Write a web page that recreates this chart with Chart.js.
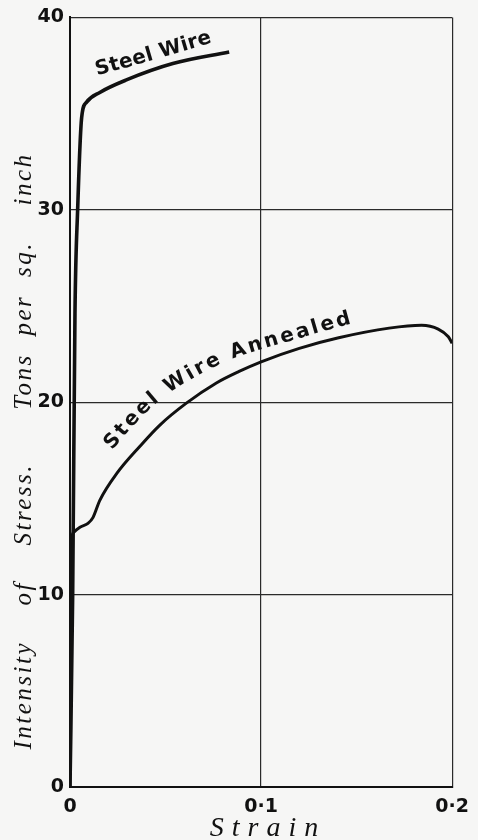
<!DOCTYPE html>
<html>
<head>
<meta charset="utf-8">
<script src="https://cdn.jsdelivr.net/npm/chart.js@4.4.1/dist/chart.umd.min.js"></script>
<style>
html,body{margin:0;padding:0;background:#f6f6f5;}
#wrap{width:478px;height:840px;position:relative;}
canvas{display:block;}
</style>
</head>
<body>
<div id="wrap"><canvas id="c" width="478" height="840"></canvas></div>
<script>
// ---- data ----
const strainTickLabels = ['0', '0·1', '0·2'];
const stressTickStep = 10;

const steelWireStrain = [0, 0.0014, 0.0026, 0.0040, 0.0061, 0.0087, 0.0156, 0.0295, 0.0538, 0.0833];
const steelWireStress = [0, 10, 24.6, 30, 34.8, 35.6, 36.1, 36.75, 37.6, 38.2];

const annealedStrain = [0, 0.0002, 0.0005, 0.0016, 0.0052, 0.0094, 0.012, 0.0156, 0.0245, 0.0365, 0.0469, 0.0609, 0.0766, 0.0885, 0.1, 0.12, 0.1406, 0.167, 0.184, 0.1927, 0.198, 0.2];
const annealedStress = [0, 8, 12.4, 13.2, 13.5, 13.7, 14.0, 14.9, 16.3, 17.7, 18.8, 19.95, 21.0, 21.6, 22.1, 22.8, 23.35, 23.85, 24.0, 23.8, 23.4, 23.06];

const seriesNames = ['Steel Wire', 'Steel Wire Annealed'];
const xTitle = 'Strain';
const yTitle = 'Intensity  of  Stress.   Tons per sq.  inch';

// label baselines (in data units) along which the curve names are written
const steelLabelStrain = [0.0141, 0.0406, 0.0745];
const steelLabelStress = [36.99, 37.71, 38.70];
const annealedLabelStrain = [0.0219, 0.0469, 0.0807, 0.1198, 0.1474];
const annealedLabelStress = [17.51, 20.10, 22.08, 23.32, 24.10];

const INK = '#111';
const SERIF_IT = '"Liberation Serif", "Times New Roman", "DejaVu Serif", serif';

function toPoints(xs, ys) { return xs.map((x, i) => ({ x: x, y: ys[i] })); }

function textOnPath(ctx, text, pts, font) {
  const n = pts.length;
  const dense = [];
  for (let i = 0; i < n - 1; i++) {
    const p0 = pts[Math.max(i - 1, 0)], p1 = pts[i], p2 = pts[i + 1], p3 = pts[Math.min(i + 2, n - 1)];
    for (let k = 0; k < 20; k++) {
      const t = k / 20, t2 = t * t, t3 = t2 * t;
      const f = (a, b, c, d) => 0.5 * ((2 * b) + (-a + c) * t + (2 * a - 5 * b + 4 * c - d) * t2 + (-a + 3 * b - 3 * c + d) * t3);
      dense.push({ x: f(p0.x, p1.x, p2.x, p3.x), y: f(p0.y, p1.y, p2.y, p3.y) });
    }
  }
  dense.push(pts[n - 1]);
  const cum = [0];
  for (let i = 1; i < dense.length; i++) {
    cum.push(cum[i - 1] + Math.hypot(dense[i].x - dense[i - 1].x, dense[i].y - dense[i - 1].y));
  }
  const total = cum[cum.length - 1];
  ctx.font = font;
  const chars = [...text];
  const widths = chars.map(c => ctx.measureText(c).width);
  const natural = widths.reduce((a, b) => a + b, 0);
  const gap = (total - natural) / (chars.length - 1);
  const at = (s) => {
    let j = 1;
    while (j < cum.length - 1 && cum[j] < s) j++;
    const a = dense[j - 1], b = dense[j];
    const seg = cum[j] - cum[j - 1] || 1;
    const u = Math.max(0, Math.min(1, (s - cum[j - 1]) / seg));
    return { x: a.x + (b.x - a.x) * u, y: a.y + (b.y - a.y) * u, ang: Math.atan2(b.y - a.y, b.x - a.x) };
  };
  let s = 0;
  ctx.textAlign = 'center';
  ctx.textBaseline = 'alphabetic';
  chars.forEach((c, i) => {
    const p = at(s + widths[i] / 2);
    ctx.save();
    ctx.translate(p.x, p.y);
    ctx.rotate(p.ang);
    ctx.fillText(c, 0, 0);
    ctx.restore();
    s += widths[i] + gap;
  });
}

const bgPlugin = {
  id: 'bg',
  beforeDraw(chart) {
    const c = chart.ctx;
    c.save();
    c.fillStyle = '#f6f6f5';
    c.fillRect(0, 0, chart.width, chart.height);
    c.restore();
  }
};

const titlesPlugin = {
  id: 'axisTitles',
  afterDraw(chart) {
    const c = chart.ctx;
    c.save();
    c.fillStyle = INK;
    c.textAlign = 'center';
    c.textBaseline = 'alphabetic';
    // y title
    c.font = 'italic 25px ' + SERIF_IT;
    c.letterSpacing = '2.5px';
    c.wordSpacing = '9px';
    c.save();
    c.translate(31, 451);
    c.rotate(-Math.PI / 2);
    c.fillText(yTitle, 0, 0);
    c.restore();
    // x title
    c.font = 'italic 28px ' + SERIF_IT;
    c.letterSpacing = '8px';
    c.wordSpacing = '0px';
    c.fillText(xTitle, 268, 836);
    c.restore();
  }
};

const labelsPlugin = {
  id: 'curveLabels',
  afterDatasetsDraw(chart) {
    const c = chart.ctx, xs = chart.scales.x, ys = chart.scales.y;
    const px = (xa, ya) => xa.map((v, i) => ({ x: xs.getPixelForValue(v), y: ys.getPixelForValue(ya[i]) }));
    c.save();
    c.fillStyle = INK;
    textOnPath(c, seriesNames[0], px(steelLabelStrain, steelLabelStress), 'bold 20px "DejaVu Sans"');
    textOnPath(c, seriesNames[1], px(annealedLabelStrain, annealedLabelStress), 'bold 20px "DejaVu Sans"');
    c.restore();
  }
};

const tickFont = { family: '"DejaVu Sans"', weight: 'bold', size: 19 };

new Chart(document.getElementById('c'), {
  type: 'line',
  data: {
    datasets: [
      {
        label: seriesNames[0],
        data: toPoints(steelWireStrain, steelWireStress),
        borderColor: INK, borderWidth: 3.6, pointRadius: 0,
        cubicInterpolationMode: 'monotone', fill: false
      },
      {
        label: seriesNames[1],
        data: toPoints(annealedStrain, annealedStress),
        borderColor: INK, borderWidth: 3, pointRadius: 0,
        cubicInterpolationMode: 'monotone', fill: false
      }
    ]
  },
  options: {
    responsive: false,
    animation: false,
    devicePixelRatio: 1,
    layout: { padding: { top: 17, right: 24, left: 0, bottom: 0 } },
    plugins: { legend: { display: false }, tooltip: { enabled: false } },
    scales: {
      x: {
        type: 'linear', min: 0, max: 0.2,
        afterFit(s) { s.height = 53; },
        ticks: {
          stepSize: 0.1, maxRotation: 0, autoSkip: false,
          callback: (v, i) => strainTickLabels[i],
          font: tickFont, color: INK, padding: 9
        },
        grid: { color: '#2a2a2a', lineWidth: 1.2, drawTicks: false },
        border: { color: INK, width: 2 }
      },
      y: {
        type: 'linear', min: 0, max: 40,
        afterFit(s) { s.width = 70; },
        ticks: {
          stepSize: stressTickStep, font: tickFont, color: INK, padding: 6
        },
        grid: { color: '#2a2a2a', lineWidth: 1.2, drawTicks: false },
        border: { color: INK, width: 2 }
      }
    }
  },
  plugins: [bgPlugin, titlesPlugin, labelsPlugin]
});
</script>
</body>
</html>
